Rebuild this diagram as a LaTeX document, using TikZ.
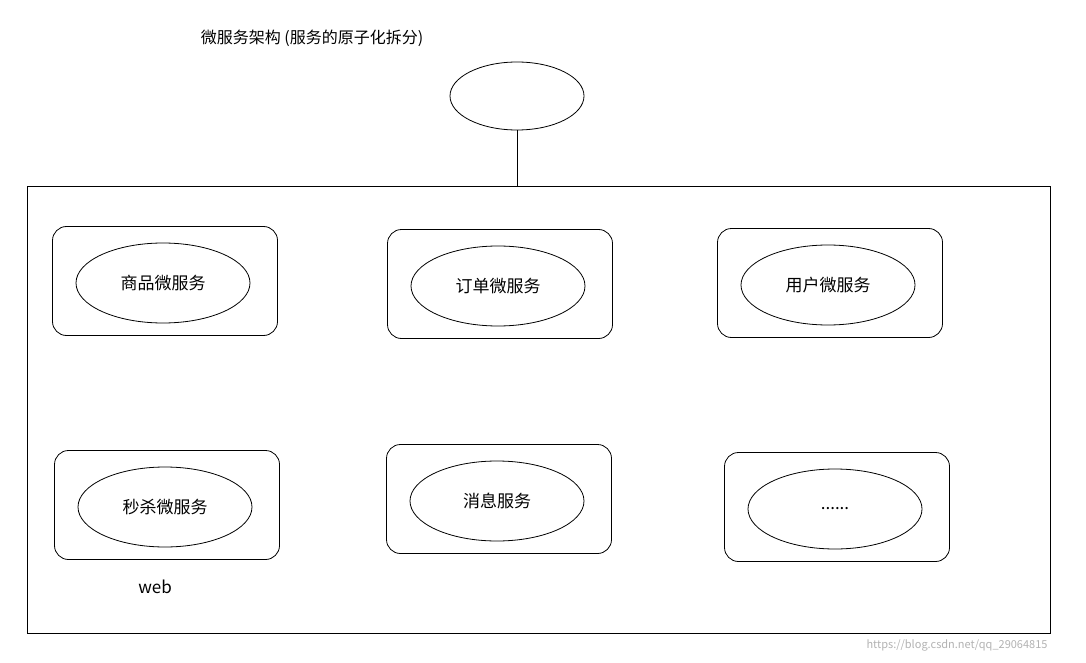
\documentclass[tikz,border=0pt]{standalone}
\usepackage{fontspec}
\usetikzlibrary{shapes.geometric}
\setmainfont{Noto Sans CJK SC}
\newcommand{\mydots}{.\kern0pt.\kern0pt.\kern0pt.\kern0pt.\kern0pt.}
\begin{document}
\begin{tikzpicture}[x=1pt,y=-1pt,
 rbox/.style={draw,thick,rounded corners=14pt,minimum width=225pt,minimum height=109pt},
 ell/.style={draw,thick,ellipse,minimum width=174pt,minimum height=80pt,font=\fontsize{17}{20}\selectfont},
 every node/.style={inner sep=0pt}]
\useasboundingbox (0,0) rectangle (1086,663);
\node[font=\fontsize{16}{19}\selectfont] (title) at (312,38) {微服务架构 (服务的原子化拆分)};
\node[draw,thick,ellipse,minimum width=134pt,minimum height=68pt] (top) at (517,96) {};
\node[draw,thick,minimum width=1023pt,minimum height=447pt] (main) at (538.5,409.5) {};
\draw[thick] (top.south) -- (top.south |- main.north);
\foreach \n/\x/\y/\t in {a/165/281/商品微服务,b/500/284/订单微服务,c/830/283/用户微服务,d/167/505/秒杀微服务,e/499/499/消息服务,f/837/507/\mydots}{
 \node[rbox] (b\n) at (\x,\y) {};
 \node[ell] (e\n) at (\x-2,\y+2) {\t};
}
\node[font=\fontsize{17}{20}\selectfont] (web) at (155,587) {web};
\node[font=\fontsize{11}{13}\selectfont,text=gray!60] (wm) at (957,645) {https://blog.csdn.net/qq\_29064815};
\end{tikzpicture}
\end{document}
